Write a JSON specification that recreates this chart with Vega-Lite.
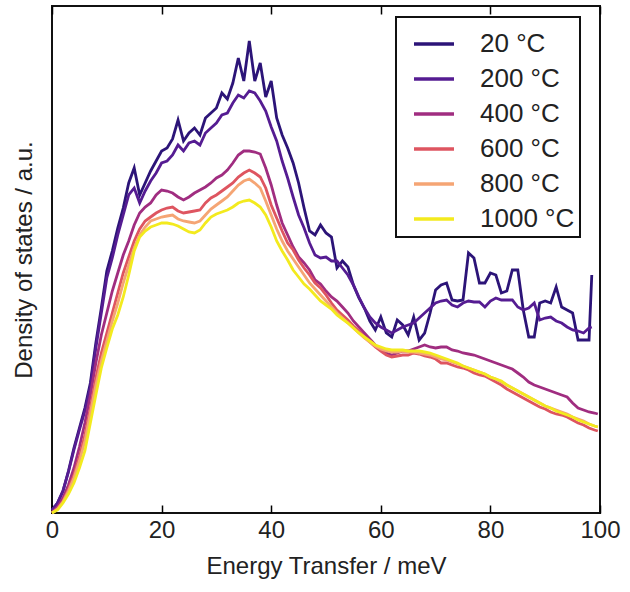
{
  "$schema": "https://vega.github.io/schema/vega-lite/v6.json",
  "width": 548,
  "height": 507,
  "autosize": {"type": "none"},
  "padding": {"left": 52, "top": 6, "right": 30, "bottom": 79},
  "background": "white",
  "config": {
    "font": "Liberation Sans",
    "view": {"stroke": "#111", "strokeWidth": 2},
    "axis": {"grid": false, "domain": false, "labelColor": "#222", "titleColor": "#222", "labelFont": "Liberation Sans", "titleFont": "Liberation Sans", "titleFontWeight": "normal"},
    "axisY": {"labels": false, "ticks": false, "titleFontSize": 24, "titlePadding": 16}
  },
  "datasets": {
    "tickpos": [{"E": 20}, {"E": 40}, {"E": 60}, {"E": 80}],
    "dos": [
    {"E":0,"20 °C":3,"200 °C":3,"400 °C":1,"600 °C":0,"800 °C":0,"1000 °C":0},
    {"E":1,"20 °C":10,"200 °C":10,"400 °C":6,"600 °C":4,"800 °C":4,"1000 °C":3},
    {"E":2,"20 °C":22,"200 °C":22,"400 °C":15,"600 °C":12,"800 °C":11,"1000 °C":10},
    {"E":3,"20 °C":42,"200 °C":41,"400 °C":28,"600 °C":24,"800 °C":22,"1000 °C":19},
    {"E":4,"20 °C":65,"200 °C":63,"400 °C":45,"600 °C":38,"800 °C":35,"1000 °C":30},
    {"E":5,"20 °C":85,"200 °C":83,"400 °C":66,"600 °C":56,"800 °C":52,"1000 °C":45},
    {"E":6,"20 °C":105,"200 °C":102,"400 °C":90,"600 °C":78,"800 °C":72,"1000 °C":62},
    {"E":7,"20 °C":130,"200 °C":126,"400 °C":118,"600 °C":105,"800 °C":100,"1000 °C":90},
    {"E":8,"20 °C":170,"200 °C":165,"400 °C":150,"600 °C":135,"800 °C":128,"1000 °C":118},
    {"E":9,"20 °C":205,"200 °C":200,"400 °C":178,"600 °C":160,"800 °C":152,"1000 °C":145},
    {"E":10,"20 °C":242,"200 °C":235,"400 °C":200,"600 °C":180,"800 °C":172,"1000 °C":165},
    {"E":11,"20 °C":262,"200 °C":255,"400 °C":222,"600 °C":200,"800 °C":192,"1000 °C":184},
    {"E":12,"20 °C":285,"200 °C":278,"400 °C":240,"600 °C":220,"800 °C":210,"1000 °C":198},
    {"E":13,"20 °C":305,"200 °C":298,"400 °C":258,"600 °C":240,"800 °C":230,"1000 °C":216},
    {"E":14,"20 °C":330,"200 °C":318,"400 °C":272,"600 °C":256,"800 °C":248,"1000 °C":238},
    {"E":15,"20 °C":345,"200 °C":325,"400 °C":288,"600 °C":272,"800 °C":265,"1000 °C":262},
    {"E":16,"20 °C":318,"200 °C":310,"400 °C":300,"600 °C":284,"800 °C":278,"1000 °C":276},
    {"E":17,"20 °C":330,"200 °C":322,"400 °C":306,"600 °C":292,"800 °C":286,"1000 °C":282},
    {"E":18,"20 °C":342,"200 °C":332,"400 °C":310,"600 °C":296,"800 °C":292,"1000 °C":286},
    {"E":19,"20 °C":352,"200 °C":340,"400 °C":318,"600 °C":300,"800 °C":294,"1000 °C":288},
    {"E":20,"20 °C":362,"200 °C":350,"400 °C":323,"600 °C":303,"800 °C":296,"1000 °C":290},
    {"E":21,"20 °C":365,"200 °C":352,"400 °C":322,"600 °C":305,"800 °C":297,"1000 °C":290},
    {"E":22,"20 °C":374,"200 °C":358,"400 °C":320,"600 °C":306,"800 °C":298,"1000 °C":289},
    {"E":23,"20 °C":393,"200 °C":368,"400 °C":316,"600 °C":302,"800 °C":294,"1000 °C":287},
    {"E":24,"20 °C":372,"200 °C":362,"400 °C":313,"600 °C":300,"800 °C":292,"1000 °C":284},
    {"E":25,"20 °C":380,"200 °C":370,"400 °C":316,"600 °C":301,"800 °C":291,"1000 °C":281},
    {"E":26,"20 °C":385,"200 °C":372,"400 °C":320,"600 °C":302,"800 °C":290,"1000 °C":280},
    {"E":27,"20 °C":378,"200 °C":368,"400 °C":323,"600 °C":303,"800 °C":292,"1000 °C":283},
    {"E":28,"20 °C":395,"200 °C":380,"400 °C":326,"600 °C":310,"800 °C":298,"1000 °C":290},
    {"E":29,"20 °C":400,"200 °C":385,"400 °C":330,"600 °C":315,"800 °C":304,"1000 °C":296},
    {"E":30,"20 °C":405,"200 °C":390,"400 °C":335,"600 °C":318,"800 °C":308,"1000 °C":299},
    {"E":31,"20 °C":420,"200 °C":398,"400 °C":338,"600 °C":322,"800 °C":312,"1000 °C":301},
    {"E":32,"20 °C":414,"200 °C":400,"400 °C":343,"600 °C":326,"800 °C":316,"1000 °C":303},
    {"E":33,"20 °C":430,"200 °C":410,"400 °C":350,"600 °C":330,"800 °C":322,"1000 °C":306},
    {"E":34,"20 °C":455,"200 °C":418,"400 °C":358,"600 °C":336,"800 °C":328,"1000 °C":310},
    {"E":35,"20 °C":432,"200 °C":415,"400 °C":362,"600 °C":340,"800 °C":332,"1000 °C":312},
    {"E":36,"20 °C":472,"200 °C":422,"400 °C":362,"600 °C":343,"800 °C":334,"1000 °C":313},
    {"E":37,"20 °C":432,"200 °C":420,"400 °C":361,"600 °C":340,"800 °C":330,"1000 °C":310},
    {"E":38,"20 °C":450,"200 °C":412,"400 °C":359,"600 °C":336,"800 °C":325,"1000 °C":306},
    {"E":39,"20 °C":416,"200 °C":402,"400 °C":345,"600 °C":325,"800 °C":312,"1000 °C":298},
    {"E":40,"20 °C":432,"200 °C":386,"400 °C":328,"600 °C":308,"800 °C":298,"1000 °C":286},
    {"E":41,"20 °C":395,"200 °C":372,"400 °C":308,"600 °C":295,"800 °C":284,"1000 °C":272},
    {"E":42,"20 °C":378,"200 °C":352,"400 °C":290,"600 °C":282,"800 °C":272,"1000 °C":262},
    {"E":43,"20 °C":365,"200 °C":335,"400 °C":278,"600 °C":270,"800 °C":262,"1000 °C":253},
    {"E":44,"20 °C":350,"200 °C":316,"400 °C":266,"600 °C":263,"800 °C":254,"1000 °C":243},
    {"E":45,"20 °C":330,"200 °C":298,"400 °C":256,"600 °C":253,"800 °C":246,"1000 °C":236},
    {"E":46,"20 °C":305,"200 °C":285,"400 °C":250,"600 °C":245,"800 °C":238,"1000 °C":229},
    {"E":47,"20 °C":282,"200 °C":270,"400 °C":243,"600 °C":238,"800 °C":230,"1000 °C":224},
    {"E":48,"20 °C":278,"200 °C":258,"400 °C":233,"600 °C":230,"800 °C":224,"1000 °C":218},
    {"E":49,"20 °C":288,"200 °C":255,"400 °C":229,"600 °C":225,"800 °C":218,"1000 °C":212},
    {"E":50,"20 °C":280,"200 °C":256,"400 °C":222,"600 °C":218,"800 °C":212,"1000 °C":208},
    {"E":51,"20 °C":276,"200 °C":252,"400 °C":216,"600 °C":210,"800 °C":206,"1000 °C":204},
    {"E":52,"20 °C":245,"200 °C":252,"400 °C":212,"600 °C":203,"800 °C":200,"1000 °C":198},
    {"E":53,"20 °C":252,"200 °C":245,"400 °C":206,"600 °C":198,"800 °C":195,"1000 °C":194},
    {"E":54,"20 °C":246,"200 °C":238,"400 °C":200,"600 °C":193,"800 °C":190,"1000 °C":190},
    {"E":55,"20 °C":228,"200 °C":228,"400 °C":192,"600 °C":187,"800 °C":185,"1000 °C":185},
    {"E":56,"20 °C":215,"200 °C":216,"400 °C":186,"600 °C":182,"800 °C":180,"1000 °C":180},
    {"E":57,"20 °C":205,"200 °C":205,"400 °C":180,"600 °C":176,"800 °C":175,"1000 °C":176},
    {"E":58,"20 °C":192,"200 °C":196,"400 °C":174,"600 °C":171,"800 °C":171,"1000 °C":172},
    {"E":59,"20 °C":183,"200 °C":190,"400 °C":168,"600 °C":166,"800 °C":167,"1000 °C":168},
    {"E":60,"20 °C":196,"200 °C":186,"400 °C":163,"600 °C":162,"800 °C":164,"1000 °C":166},
    {"E":61,"20 °C":180,"200 °C":183,"400 °C":160,"600 °C":158,"800 °C":162,"1000 °C":164},
    {"E":62,"20 °C":176,"200 °C":180,"400 °C":158,"600 °C":156,"800 °C":161,"1000 °C":163},
    {"E":63,"20 °C":193,"200 °C":183,"400 °C":160,"600 °C":157,"800 °C":161,"1000 °C":163},
    {"E":64,"20 °C":188,"200 °C":186,"400 °C":162,"600 °C":158,"800 °C":162,"1000 °C":163},
    {"E":65,"20 °C":178,"200 °C":188,"400 °C":162,"600 °C":158,"800 °C":161,"1000 °C":162},
    {"E":66,"20 °C":196,"200 °C":190,"400 °C":164,"600 °C":160,"800 °C":161,"1000 °C":162},
    {"E":67,"20 °C":173,"200 °C":195,"400 °C":166,"600 °C":159,"800 °C":160,"1000 °C":162},
    {"E":68,"20 °C":180,"200 °C":200,"400 °C":168,"600 °C":157,"800 °C":159,"1000 °C":161},
    {"E":69,"20 °C":200,"200 °C":205,"400 °C":166,"600 °C":156,"800 °C":158,"1000 °C":160},
    {"E":70,"20 °C":223,"200 °C":210,"400 °C":165,"600 °C":154,"800 °C":156,"1000 °C":158},
    {"E":71,"20 °C":228,"200 °C":212,"400 °C":166,"600 °C":150,"800 °C":154,"1000 °C":156},
    {"E":72,"20 °C":230,"200 °C":213,"400 °C":166,"600 °C":150,"800 °C":153,"1000 °C":154},
    {"E":73,"20 °C":213,"200 °C":208,"400 °C":163,"600 °C":148,"800 °C":151,"1000 °C":152},
    {"E":74,"20 °C":212,"200 °C":206,"400 °C":162,"600 °C":146,"800 °C":149,"1000 °C":150},
    {"E":75,"20 °C":213,"200 °C":210,"400 °C":160,"600 °C":145,"800 °C":147,"1000 °C":147},
    {"E":76,"20 °C":260,"200 °C":212,"400 °C":159,"600 °C":143,"800 °C":145,"1000 °C":145},
    {"E":77,"20 °C":255,"200 °C":211,"400 °C":158,"600 °C":140,"800 °C":143,"1000 °C":143},
    {"E":78,"20 °C":230,"200 °C":211,"400 °C":156,"600 °C":138,"800 °C":141,"1000 °C":141},
    {"E":79,"20 °C":230,"200 °C":206,"400 °C":154,"600 °C":137,"800 °C":139,"1000 °C":139},
    {"E":80,"20 °C":240,"200 °C":212,"400 °C":152,"600 °C":134,"800 °C":136,"1000 °C":136},
    {"E":81,"20 °C":238,"200 °C":215,"400 °C":150,"600 °C":131,"800 °C":134,"1000 °C":134},
    {"E":82,"20 °C":220,"200 °C":213,"400 °C":148,"600 °C":128,"800 °C":131,"1000 °C":132},
    {"E":83,"20 °C":222,"200 °C":213,"400 °C":146,"600 °C":124,"800 °C":128,"1000 °C":128},
    {"E":84,"20 °C":243,"200 °C":213,"400 °C":144,"600 °C":121,"800 °C":125,"1000 °C":125},
    {"E":85,"20 °C":243,"200 °C":206,"400 °C":140,"600 °C":118,"800 °C":122,"1000 °C":122},
    {"E":86,"20 °C":203,"200 °C":203,"400 °C":136,"600 °C":115,"800 °C":119,"1000 °C":119},
    {"E":87,"20 °C":176,"200 °C":205,"400 °C":131,"600 °C":112,"800 °C":116,"1000 °C":116},
    {"E":88,"20 °C":176,"200 °C":210,"400 °C":128,"600 °C":109,"800 °C":113,"1000 °C":113},
    {"E":89,"20 °C":210,"200 °C":193,"400 °C":126,"600 °C":106,"800 °C":110,"1000 °C":110},
    {"E":90,"20 °C":212,"200 °C":195,"400 °C":124,"600 °C":104,"800 °C":107,"1000 °C":107},
    {"E":91,"20 °C":210,"200 °C":196,"400 °C":122,"600 °C":101,"800 °C":105,"1000 °C":105},
    {"E":92,"20 °C":226,"200 °C":192,"400 °C":120,"600 °C":99,"800 °C":103,"1000 °C":102},
    {"E":93,"20 °C":206,"200 °C":190,"400 °C":118,"600 °C":98,"800 °C":101,"1000 °C":100},
    {"E":94,"20 °C":203,"200 °C":186,"400 °C":116,"600 °C":96,"800 °C":99,"1000 °C":98},
    {"E":95,"20 °C":200,"200 °C":183,"400 °C":110,"600 °C":93,"800 °C":96,"1000 °C":96},
    {"E":96,"20 °C":173,"200 °C":182,"400 °C":105,"600 °C":90,"800 °C":94,"1000 °C":93},
    {"E":97,"20 °C":173,"200 °C":180,"400 °C":103,"600 °C":88,"800 °C":92,"1000 °C":91},
    {"E":98,"20 °C":173,"200 °C":185,"400 °C":101,"600 °C":85,"800 °C":89,"1000 °C":89},
    {"E":98.5,"20 °C":238,"200 °C":186},
    {"E":99,"400 °C":100,"600 °C":83,"800 °C":87,"1000 °C":87},
    {"E":99.6,"400 °C":99,"600 °C":82,"800 °C":86,"1000 °C":86}
  ]},
  "layer": [
    {
      "data": {"name": "dos"},
      "transform": [
        {"fold": ["20 °C", "200 °C", "400 °C", "600 °C", "800 °C", "1000 °C"], "as": ["T", "v"]},
        {"filter": "isValid(datum.v)"}
      ],
      "mark": {"type": "line", "strokeWidth": 2.8, "strokeJoin": "miter"},
      "encoding": {
        "x": {"field": "E", "type": "quantitative", "scale": {"domain": [0, 100], "nice": false}, "title": "Energy Transfer / meV",
              "axis": {"values": [0, 20, 40, 60, 80, 100], "offset": -8, "ticks": true, "tickSize": 8, "tickColor": "#000", "tickWidth": 1.5,
                       "labelFlush": false, "labelFontSize": 24, "labelPadding": 5, "titleFontSize": 24, "titlePadding": 12}},
        "y": {"field": "v", "type": "quantitative", "scale": {"domain": [0, 507], "nice": false, "zero": true}, "title": "Density of states / a.u."},
        "color": {"field": "T", "type": "nominal",
                  "scale": {"domain": ["20 °C", "200 °C", "400 °C", "600 °C", "800 °C", "1000 °C"],
                            "range": ["#2c1478", "#551c92", "#a02d80", "#de5560", "#f5a574", "#f3ea1e"]},
                  "legend": {"orient": "none", "legendX": 344, "legendY": 11, "title": null,
                             "symbolType": "stroke", "symbolSize": 1600, "symbolStrokeWidth": 3.5, "symbolOffset": 11,
                             "labelFontSize": 26, "labelColor": "#222", "labelFont": "Liberation Sans", "labelOffset": 24,
                             "rowPadding": 0, "padding": 5, "strokeColor": "#111",
                             "encode": {"legend": {"update": {"strokeWidth": {"value": 2}}}}}}
      }
    },
    {
      "data": {"name": "tickpos"},
      "mark": {"type": "point", "opacity": 0},
      "encoding": {
        "x": {"field": "E", "type": "quantitative",
              "axis": {"orient": "top", "values": [0, 20, 40, 60, 80, 100], "offset": -8, "labels": false, "ticks": true, "tickSize": 8, "tickColor": "#000", "tickWidth": 1.5, "title": null}},
        "y": {"datum": 250, "type": "quantitative", "title": "Density of states / a.u."}
      }
    }
  ],
  "resolve": {"axis": {"x": "independent"}}
}
